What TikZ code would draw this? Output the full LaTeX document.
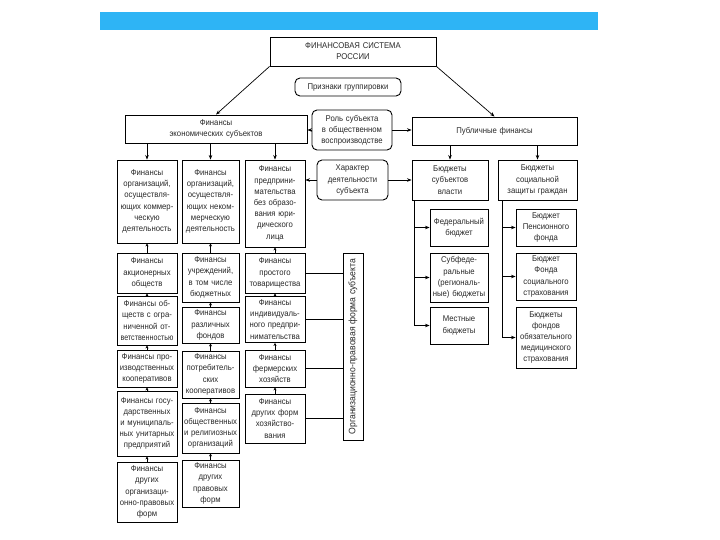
\documentclass[tikz,border=0pt]{standalone}
\usepackage{fontspec}
\setmainfont{Liberation Sans}[FakeStretch=0.92]
\usetikzlibrary{arrows.meta}
\definecolor{barblue}{RGB}{46,180,245}
\definecolor{txtgray}{RGB}{40,40,40}
\begin{document}
\begin{tikzpicture}[x=1pt,y=-1pt]
\tikzstyle{every node}=[font=\fontsize{8.4}{11.2}\selectfont,text=txtgray,inner sep=1pt,align=center];
\tikzstyle{box}=[draw=black,line width=0.9pt];
\tikzstyle{sign}=[box,rounded corners=5pt];
\tikzstyle{arr}=[line width=0.7pt,-{Stealth[length=4.5pt,width=3.5pt]}];
\tikzstyle{sarr}=[line width=0.7pt,-{Stealth[length=3pt,width=3pt]}];
\tikzstyle{link}=[line width=0.7pt];
\useasboundingbox (0,0) rectangle (720,540);
\fill[barblue] (100,12) rectangle (598,30);

\node[box,text width=164pt,minimum height=29pt] (fs) at (353,51.5) {ФИНАНСОВАЯ СИСТЕМА\\РОССИИ};
\node[sign,text width=104pt,minimum height=18pt] (grp) at (348,87) {Признаки группировки};
\node[box,text width=180pt,minimum height=28pt] (fes) at (216,129) {Финансы\\экономических субъектов};
\node[sign,text width=78pt,minimum height=40pt] (role) at (352,130) {Роль субъекта\\в общественном\\воспроизводстве};
\node[box,text width=163pt,minimum height=28pt] (pub) at (494.5,131) {Публичные финансы};

\node[box,text width=58pt,minimum height=83pt] (org1) at (147,201.5) {Финансы\\организаций,\\осуществля-\\ющих коммер-\\ческую\\деятельность};
\node[box,text width=55pt,minimum height=83pt] (org2) at (210.5,201.5) {Финансы\\организаций,\\осуществля-\\ющих неком-\\мерческую\\деятельность};
\node[box,text width=58pt,minimum height=87pt] (ent) at (275,203.5) {Финансы\\предприни-\\мательства\\без образо-\\вания юри-\\дического\\лица};
\node[sign,text width=69pt,minimum height=40pt] (kind) at (352.5,180) {Характер\\деятельности\\субъекта};
\node[box,text width=74pt,minimum height=40pt] (bsv) at (450,180) {Бюджеты\\субъектов\\власти};
\node[box,text width=77pt,minimum height=40pt] (bsz) at (537.5,180) {Бюджеты\\социальной\\защиты граждан};

\node[box,text width=56pt,minimum height=37pt] (fed) at (459,227.5) {Федеральный\\бюджет};
\node[box,text width=56pt,minimum height=49pt] (subf) at (459,277.5) {Субфеде-\\ральные\\(региональ-\\ные) бюджеты};
\node[box,text width=56pt,minimum height=37pt] (loc) at (459,325.5) {Местные\\бюджеты};
\node[box,text width=58pt,minimum height=37pt] (pens) at (546,227.5) {Бюджет\\Пенсионного\\фонда};
\node[box,text width=58pt,minimum height=47pt] (fss) at (546,276.5) {Бюджет\\Фонда\\социального\\страхования};
\node[box,text width=58pt,minimum height=61pt] (foms) at (546,337.5) {Бюджеты\\фондов\\обязательного\\медицинского\\страхования};

\node[box,text width=58pt,minimum height=40pt] (jsc) at (147,273) {Финансы\\акционерных\\обществ};
\node[box,text width=58pt,minimum height=49pt] (llc) at (147,320.5) {Финансы об-\\ществ с огра-\\ниченной от-\\\scalebox{0.92}[1]{ветственностью}};
\node[box,text width=58pt,minimum height=37pt] (coop) at (147,368.5) {Финансы про-\\изводственных\\кооперативов};
\node[box,text width=58pt,minimum height=65pt] (unit) at (147,423.5) {Финансы госу-\\дарственных\\и муниципаль-\\ных унитарных\\предприятий};
\node[box,text width=58pt,minimum height=60pt] (oth1) at (147,492) {Финансы\\других\\организаци-\\онно-правовых\\форм};

\node[box,text width=55pt,minimum height=49pt] (inst) at (210.5,277.5) {Финансы\\учреждений,\\в том числе\\бюджетных};
\node[box,text width=55pt,minimum height=36pt] (fund) at (210.5,325) {Финансы\\различных\\фондов};
\node[box,text width=55pt,minimum height=47pt] (cons) at (210.5,374.5) {Финансы\\потребитель-\\ских\\кооперативов};
\node[box,text width=55pt,minimum height=50pt] (relig) at (210.5,428) {Финансы\\общественных\\и религиозных\\организаций};
\node[box,text width=55pt,minimum height=47pt] (oth2) at (210.5,483.5) {Финансы\\других\\правовых\\форм};

\node[box,text width=58pt,minimum height=40pt] (part) at (275,273) {Финансы\\простого\\товарищества};
\node[box,text width=58pt,minimum height=46pt] (indiv) at (275,319.5) {Финансы\\индивидуаль-\\ного предпри-\\нимательства};
\node[box,text width=58pt,minimum height=37pt] (farm) at (275,368.5) {Финансы\\фермерских\\хозяйств};
\node[box,text width=58pt,minimum height=49pt] (oth3) at (275,418.5) {Финансы\\других форм\\хозяйство-\\вания};

\node[box,rotate=90,minimum width=187pt,minimum height=20pt,font=\fontsize{9.4}{10}\selectfont] (form) at (353,346.5) {Организационно-правовая форма субъекта};

\draw[arr] (fs.south west) -- (fes.north);
\draw[arr] (fs.south east) -- (pub.north);
\draw[arr] (role.west) -- (role.west -| fes.east);
\draw[arr] (role.east) -- (role.east -| pub.west);
\foreach \n in {org1,org2,ent} \draw[arr] (\n.north |- fes.south) -- (\n.north);
\foreach \n in {bsv,bsz} \draw[arr] (\n.north |- pub.south) -- (\n.north);
\draw[arr] (kind.west) -- (kind.west -| ent.east);
\draw[arr] (kind.east) -- (kind.east -| bsv.west);
\coordinate (lroot) at ([xshift=3pt]bsv.south west);
\coordinate (rroot) at ([xshift=5pt]bsz.south west);
\foreach \n in {fed,subf,loc} \draw[arr] (lroot) |- (\n.west);
\foreach \n in {pens,fss,foms} \draw[arr] (rroot) |- (\n.west);
\foreach \a/\b in {org1/jsc,jsc/llc,llc/coop,coop/unit,unit/oth1,org2/inst,inst/fund,fund/cons,cons/relig,relig/oth2,ent/part,part/indiv,indiv/farm,farm/oth3}
	\draw[sarr] (\b.north) -- (\a.south);
\foreach \n in {part,indiv,farm,oth3} \draw[link] (\n.east) -- (\n.east -| form.north);
\end{tikzpicture}
\end{document}
